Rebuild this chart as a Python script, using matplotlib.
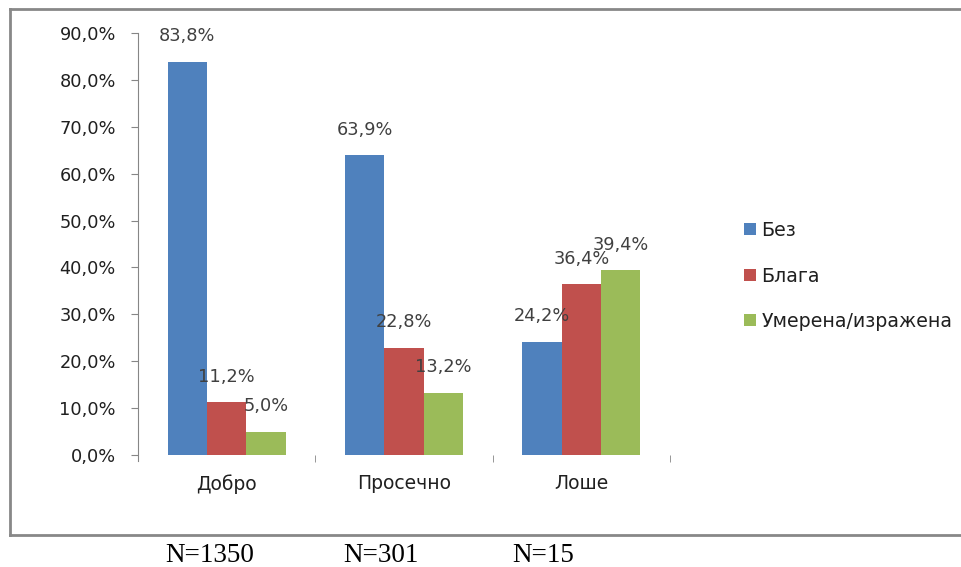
import matplotlib
matplotlib.use('Agg')
import matplotlib.pyplot as plt
from matplotlib.lines import Line2D
import numpy as np

categories = ['Добро', 'Просечно', 'Лоше']
series_names = ['Без', 'Блага', 'Умерена/изражена']
bez = [83.8, 63.9, 24.2]
blaga = [11.2, 22.8, 36.4]
umerena = [5.0, 13.2, 39.4]
n_labels = ['N=1350', 'N=301', 'N=15']
colors = ['#4F81BD', '#C0504D', '#9BBB59']

fig = plt.figure(figsize=(9.62, 5.67), dpi=100)
ax = fig.add_axes([138/962, 1-455/567, (670-138)/962, (455-33)/567])

x = np.arange(len(categories))
w = 0.222
for i, (vals, name) in enumerate(zip([bez, blaga, umerena], series_names)):
    pos = x + (i - 1) * w
    ax.bar(pos, vals, width=w, color=colors[i], label=name)
    for p, v in zip(pos, vals):
        ax.annotate(f'{v:.1f}%'.replace('.', ','), (p, v), xytext=(0, 12),
                    textcoords='offset points', ha='center', va='bottom',
                    fontsize=12.8, color='#404040')

ax.set_xlim(-0.5, 2.5)
ax.set_ylim(0, 90)
ax.set_yticks(np.arange(0, 91, 10))
ax.set_yticklabels([f'{t:.1f}%'.replace('.', ',') for t in np.arange(0, 91, 10)])
ax.set_xticks(x)
ax.set_xticklabels(categories)
ax.set_xticks([0.5, 1.5, 2.5], minor=True)
ax.tick_params(axis='x', which='major', length=0, pad=14, labelsize=13.5, labelcolor='#202020')
ax.tick_params(axis='x', which='minor', length=5, color='#868686', direction='out')
ax.tick_params(axis='y', length=5, color='#868686', labelsize=12.8, labelcolor='#202020', pad=11)
for s in ['top', 'right', 'bottom']:
    ax.spines[s].set_visible(False)
ax.spines['left'].set_color('#868686')
ax.spines['left'].set_bounds(-1.2, 90)

ax.legend(loc='center left', bbox_to_anchor=(727/962, 1-276/567), bbox_transform=fig.transFigure,
          frameon=False, fontsize=13.7, labelspacing=1.4, handlelength=0.6, handleheight=0.6,
          handletextpad=0.3, labelcolor='#202020')

# outer frame (no right side visible)
x0, y0, y1 = 10/962, 1-535/567, 1-9/567
for xs, ys in [([x0, 1.0], [y1, y1]), ([x0, x0], [y0, y1]), ([x0, 1.0], [y0, y0])]:
    fig.add_artist(Line2D(xs, ys, transform=fig.transFigure, color='#888888', linewidth=2))

for lbl, px in zip(n_labels, [165, 343, 512]):
    fig.text(px/962, 1-562/567, lbl, family='Liberation Serif', fontsize=19.5,
             ha='left', va='baseline', color='black')

fig.savefig('out.png', dpi=100)
